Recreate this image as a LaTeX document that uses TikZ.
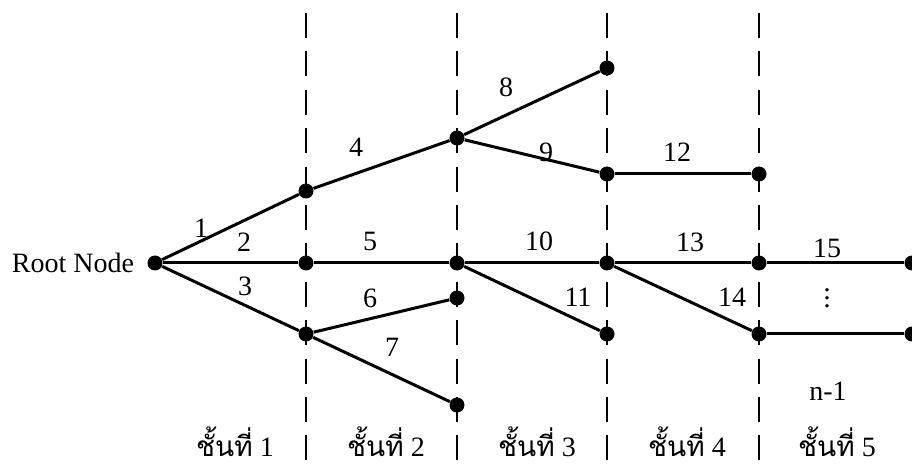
\documentclass[tikz,border=0pt]{standalone}
\usepackage{fontspec}
\setmainfont{Liberation Serif}
\newfontfamily\thaifont[Script=Thai]{Loma}
\usetikzlibrary{positioning}
\tikzset{
  dot/.style={circle,fill=black,inner sep=0pt,minimum size=7.5pt},
  edge/.style={line width=1.5pt},
  layer/.style={line width=1.4pt,dash pattern=on 12.5pt off 6.7pt},
  lbl/.style={inner sep=0pt}
}
\begin{document}
\begin{tikzpicture}[x=0.5pt,y=-0.5pt,font=\fontsize{14}{16}\selectfont]
\useasboundingbox (0,0) rectangle (912,465);
% layer borders
\foreach \x/\n in {306/l1,457/l2,607/l3,759/l4}
  \draw[layer] (\x,13) coordinate (\n top) -- (\x,470) coordinate (\n bot);
% the nodes of the tree
\node[dot] (r) at (155,263) {};
\node[left=3pt of r] (rlbl) {Root Node};
\node[dot] (a1) at (306,191) {};
\node[dot] (a2) at (306,263) {};
\node[dot] (a3) at (306,334) {};
\node[dot] (b1) at (457,138) {};
\node[dot] (b2) at (457,263) {};
\node[dot] (b3) at (457,298) {};
\node[dot] (b4) at (457,405) {};
\node[dot] (c1) at (607,68) {};
\node[dot] (c2) at (607,174) {};
\node[dot] (c3) at (607,263) {};
\node[dot] (c4) at (607,334) {};
\node[dot] (d1) at (759,174) {};
\node[dot] (d2) at (759,263) {};
\node[dot] (d3) at (759,334) {};
\node[dot] (e1) at (912,263) {};
\node[dot] (e2) at (912,334) {};
% branches
\draw[edge] (r) -- (a1);
\draw[edge] (r) -- (a2);
\draw[edge] (r) -- (a3);
\draw[edge] (a1) -- (b1);
\draw[edge] (a2) -- (b2);
\draw[edge] (a3) -- (b3);
\draw[edge] (a3) -- (b4);
\draw[edge] (b1) -- (c1);
\draw[edge] (b1) -- (c2);
\draw[edge] (b2) -- (c3);
\draw[edge] (b2) -- (c4);
\draw[edge] (c2) -- (d1);
\draw[edge] (c3) -- (d2);
\draw[edge] (c3) -- (d3);
\draw[edge] (d2) -- (e1);
\draw[edge] (d3) -- (e2);
% branch numbers
\node[lbl] (n1) at (201,228) {1};
\node[lbl] (n2) at (244,242) {2};
\node[lbl] (n3) at (245,286) {3};
\node[lbl] (n4) at (356,147) {4};
\node[lbl] (n5) at (370,241) {5};
\node[lbl] (n6) at (370,298) {6};
\node[lbl] (n7) at (392,347) {7};
\node[lbl] (n8) at (506,87) {8};
\node[lbl] (n9) at (546,152) {9};
\node[lbl] (n10) at (539,241) {10};
\node[lbl] (n11) at (578,297) {11};
\node[lbl] (n12) at (677,152) {12};
\node[lbl] (n13) at (690,242) {13};
\node[lbl] (n14) at (732,297) {14};
\node[lbl] (n15) at (827,248) {15};
\node[lbl] (vdots) at (827,292) {$\vdots$};
\node[lbl] (nlast) at (828,391) {n-1};
% layer names
\foreach \x [count=\i] in {235,386,537,687,837}
  \node[lbl,anchor=base] (s\i) at (\x,457) {{\thaifont ชั้นที่} \i};
\end{tikzpicture}
\end{document}
